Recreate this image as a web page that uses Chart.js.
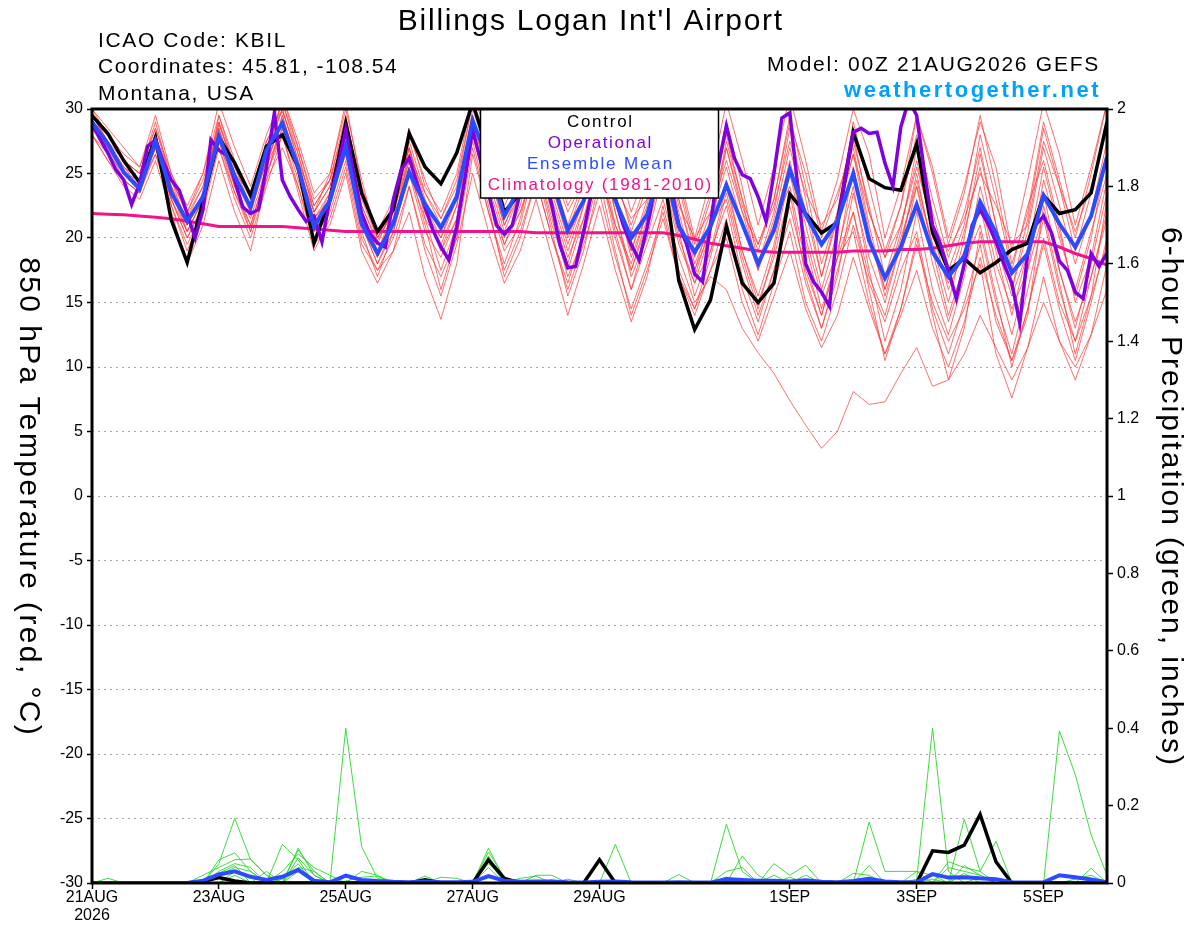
<!DOCTYPE html>
<html lang="en">
<head>
  <meta charset="UTF-8">
  <title>Billings Logan Int'l Airport - GEFS 850 hPa Temperature</title>
  <script src="https://cdn.jsdelivr.net/npm/chart.js"></script>
  <style>
    html, body { margin: 0; padding: 0; background: #fff; }
    #wrap { width: 1200px; height: 927px; }
  </style>
</head>
<body>
<div id="wrap"><canvas id="gefsChart" width="1200" height="927"></canvas></div>
<script>
  // x axis: forecast hour from 00Z 21AUG2026
  const xTickHours = [0, 48, 96, 144, 192, 264, 312, 360];
  const xTickLabels = [['21AUG', '2026'], '23AUG', '25AUG', '27AUG', '29AUG', '1SEP', '3SEP', '5SEP'];

  // 850 hPa temperature, 6-hourly (deg C)
  const tempControl = [
    29.5,28.1,26.0,24.3, 27.8,21.4,18.1,22.9, 27.8,25.8,23.3,27.1, 28.0,25.5,19.6,23.0,
    28.9,23.5,20.5,22.2, 28.1,25.5,24.2,26.6, 30.5,26.5,22.0,23.5, 27.0,25.0,23.5,24.5,
    27.5,25.0,23.5,24.0, 25.5,16.7,12.9,15.2, 20.9,16.5,15.0,16.5, 23.4,21.9,20.4,21.2,
    28.2,24.6,23.9,23.7, 27.3,20.4,17.5,18.4, 17.3,18.1,19.1,19.6, 23.3,21.9,22.2,23.5, 29.0
  ];
  const tempMean = [
    29.0,27.3,25.1,23.8, 27.5,23.5,21.3,23.2, 27.9,24.8,22.4,26.8, 28.9,25.5,20.9,22.9,
    27.1,21.1,18.8,21.1, 25.1,22.6,20.8,23.2, 29.1,26.0,21.7,24.0, 27.5,24.5,20.6,22.9,
    27.0,22.9,20.0,21.8, 26.0,20.9,18.9,20.9, 24.1,21.1,18.0,20.6, 25.3,21.8,19.5,21.3,
    25.0,19.8,16.9,19.3, 22.6,18.9,17.0,18.6, 22.8,20.4,17.3,18.8, 23.3,21.1,19.3,21.7, 26.3
  ];
  const tempClimo = [
    21.9,21.85,21.8,21.7, 21.6,21.5,21.3,21.1, 20.9,20.9,20.9,20.9, 20.9,20.8,20.7,20.6,
    20.5,20.5,20.5,20.5, 20.5,20.5,20.5,20.5, 20.5,20.5,20.5,20.5, 20.4,20.4,20.4,20.4,
    20.4,20.4,20.4,20.4, 20.4,20.2,19.9,19.6, 19.4,19.2,19.0,18.9, 18.9,18.9,18.9,18.9,
    19.0,19.0,19.0,19.1, 19.1,19.2,19.4,19.6, 19.7,19.7,19.7,19.7, 19.7,19.3,18.8,18.4, 17.9
  ];
  // operational run, 3-hourly
  const tempOper = [
    28.9,27.7,26.6,25.3,24.5,22.6,24.2,27.1, 27.6,25.9,24.5,23.7,21.9,20.0,22.2,27.6,
    26.8,26.4,24.5,22.4,21.9,22.2,25.5,29.7, 24.5,23.2,22.2,21.3,21.7,19.7,23.0,25.5,
    28.4,25.0,21.9,20.4,19.6,19.3,23.0,25.3, 26.2,24.2,22.4,20.6,19.3,18.3,20.9,24.5,
    28.4,26.0,23.5,21.0,20.3,21.0,23.5,25.5, 27.0,25.0,22.5,19.5,17.7,17.8,20.5,23.5,
    26.5,25.0,23.0,21.0,19.5,18.3,20.8,24.0, 26.5,24.0,21.0,19.5,17.2,16.6,21.0,25.6,
    28.7,26.2,24.9,24.6,23.2,21.3,25.0,29.3, 29.7,24.0,18.0,16.6,15.8,14.7,20.9,24.8,
    28.2,28.5,28.1,28.2,25.8,24.0,28.6,30.7, 29.5,25.0,21.0,19.5,17.5,15.3,18.0,21.0,
    22.2,21.1,19.7,18.0,16.5,13.4,18.8,21.0, 21.7,20.4,18.2,17.5,15.8,15.3,18.8,17.8, 18.8
  ];
  // ensemble members (red)
  const tempMembers = [
    [29.5,28.0,26.0,25.0, 28.5,24.5,21.8,24.0, 28.8,25.5,23.0,27.5, 29.8,26.5,22.0,24.0, 28.5,22.5,19.8,22.0, 26.5,23.5,21.5,24.0, 30.5,27.0,23.0,25.0, 28.5,25.5,22.0,24.5, 28.5,24.0,21.5,23.0, 27.5,22.5,20.0,22.0, 26.0,22.0,19.5,22.5, 27.5,23.5,21.0,23.0, 28.0,22.0,18.5,21.0, 25.5,21.0,19.0,21.5, 25.0,22.5,19.5,21.0, 27.5,24.0,20.5,24.0, 28.5],
    [28.0,26.0,24.0,23.0, 26.0,22.0,18.0,21.0, 26.0,22.0,19.0,24.5, 27.0,24.0,19.5,21.0, 25.0,19.0,16.5,19.0, 24.0,19.5,17.0,20.0, 27.0,22.0,17.5,20.5, 24.5,20.0,16.0,19.5, 23.5,18.5,14.5,18.0, 22.0,17.0,14.5,17.5, 21.5,16.0,12.5,16.5, 20.5,15.0,12.0,16.0, 21.0,16.5,13.5,17.5, 20.5,14.5,11.0,15.0, 19.5,13.5,10.5,14.5, 20.0,15.0,12.0,15.5, 19.5],
    [28.5,27.0,25.0,24.0, 27.0,23.0,20.0,22.5, 27.5,24.0,21.0,25.0, 28.5,25.0,20.5,22.5, 27.0,21.0,18.0,20.5, 25.0,20.5,18.5,21.5, 28.0,23.5,19.5,22.0, 26.0,21.0,17.5,21.5, 25.5,20.0,16.0,19.5, 23.0,18.5,15.0,17.0, 16.0,13.0,11.1,9.5, 7.4,5.5,3.7,5.0, 8.1,7.1,7.3,9.5, 11.5,8.5,9.0,11.0, 14.0,11.5,9.0,11.5, 15.0,12.0,10.0,12.5, 16.0],
    [30.0,28.5,27.0,25.5, 29.5,25.0,22.0,25.0, 30.5,27.0,24.0,28.0, 31.0,27.5,23.5,25.0, 30.5,24.0,20.5,23.0, 28.5,24.0,22.0,25.0, 31.0,28.0,24.0,26.5, 30.5,27.0,23.0,26.0, 30.5,26.5,22.0,25.5, 30.5,25.0,20.0,24.5, 30.5,26.0,21.0,25.5, 31.0,26.0,20.5,24.5, 30.0,26.5,20.0,24.0, 29.5,25.5,20.0,24.0, 29.0,25.5,19.0,24.5, 30.5,26.5,21.0,25.5, 30.5],
    [29.0,27.5,25.5,24.0, 27.5,23.5,21.0,23.5, 28.0,24.5,22.0,26.0, 29.0,25.0,21.0,23.5, 27.5,21.5,19.0,21.5, 25.5,21.0,16.0,20.0, 29.0,25.0,21.0,24.0, 27.5,23.0,19.0,22.5, 27.0,22.0,17.0,20.0, 25.0,19.5,16.5,19.0, 24.0,19.0,15.5,19.5, 25.5,20.0,15.5,19.0, 24.0,17.5,12.0,16.0, 22.0,16.0,12.5,17.0, 23.0,18.0,14.5,17.5, 24.5,20.0,16.0,20.5, 25.0],
    [28.5,26.5,24.5,23.5, 27.0,22.5,19.5,22.0, 27.0,23.0,20.0,24.0, 28.0,23.5,19.0,21.5, 25.5,19.5,17.5,19.0, 22.0,17.0,13.7,18.0, 26.5,22.0,18.0,21.5, 26.5,22.0,18.0,22.5, 26.0,20.5,16.0,20.5, 25.5,20.0,16.5,20.5, 27.0,22.0,18.0,22.0, 28.5,23.0,17.0,21.5, 26.5,20.5,15.5,19.5, 24.5,19.5,15.0,20.0, 26.5,21.0,16.0,20.5, 27.0,22.5,18.0,22.0, 27.5],
    [29.5,27.5,25.0,24.5, 28.0,24.0,21.0,23.0, 29.0,25.0,22.5,26.5, 30.0,26.0,22.5,24.5, 29.0,23.0,20.0,22.5, 27.0,23.0,20.5,23.0, 29.5,25.5,21.0,23.5, 27.0,22.5,18.5,21.5, 26.5,21.0,17.5,21.0, 26.0,21.0,17.5,20.5, 24.5,19.0,15.0,18.5, 23.5,17.0,13.0,17.5, 22.0,17.0,14.0,18.5, 24.0,19.5,16.5,20.5, 25.5,19.5,15.5,19.0, 23.5,17.5,13.5,17.0, 21.5],
    [28.0,26.5,25.0,24.0, 26.5,23.0,20.5,23.0, 27.5,23.5,20.5,25.5, 28.5,24.5,20.5,23.0, 26.5,20.5,17.0,20.5, 25.0,21.5,19.5,22.5, 30.0,26.5,22.5,25.0, 29.0,25.0,21.0,24.5, 29.5,25.0,20.5,24.0, 28.5,23.0,18.5,22.0, 27.0,22.5,19.0,23.0, 29.5,24.0,18.0,22.0, 26.5,22.0,18.5,22.5, 28.0,23.0,18.5,22.0, 27.0,21.0,16.0,21.5, 28.5,24.0,19.0,23.5, 29.0],
    [29.0,27.0,24.5,23.5, 27.5,23.0,20.0,22.5, 28.5,24.0,21.5,25.5, 29.5,25.5,21.5,23.0, 28.0,22.0,18.5,21.0, 26.0,22.0,19.0,22.5, 28.5,24.0,20.0,22.0, 25.5,20.5,15.5,19.0, 24.5,19.0,14.0,17.5, 21.5,17.0,14.0,17.5, 20.0,15.0,12.0,15.5, 19.0,14.5,11.5,14.0, 18.5,14.5,11.0,14.5, 19.5,15.0,12.0,14.5, 18.0,11.0,7.6,11.5, 17.0,12.0,9.0,12.5, 18.0],
    [30.0,28.0,26.0,25.0, 29.0,24.5,21.0,23.5, 28.0,25.0,23.5,27.0, 30.5,27.0,23.0,24.5, 28.0,22.0,19.0,21.5, 27.5,23.5,21.0,23.0, 29.0,24.5,20.5,23.5, 28.0,24.0,20.0,23.0, 28.0,23.0,19.0,22.5, 29.0,24.5,19.5,23.5, 29.0,24.0,18.0,21.0, 26.0,21.0,16.0,20.5, 27.5,22.5,17.0,21.0, 26.0,20.5,16.0,19.0, 22.5,17.0,12.5,17.5, 22.0,16.5,11.0,15.5, 23.0],
    [28.5,27.0,25.5,24.5, 27.5,24.0,21.5,24.0, 28.5,25.0,22.0,26.0, 29.0,25.5,21.5,23.0, 26.5,21.0,18.0,21.0, 26.5,22.5,20.0,23.5, 28.5,23.0,19.0,21.0, 26.0,21.5,17.0,20.0, 25.0,21.0,18.0,22.0, 27.0,22.0,17.5,21.5, 25.5,21.0,17.5,21.0, 24.0,18.0,14.0,18.5, 25.5,20.0,16.0,20.5, 27.0,22.0,17.5,21.0, 28.0,23.0,17.5,22.5, 26.0,21.0,15.0,18.5, 24.5],
    [29.0,28.0,26.5,25.5, 28.5,25.0,22.5,25.0, 29.5,26.0,23.0,27.0, 30.5,26.5,22.0,24.0, 28.0,22.5,19.5,22.5, 27.0,21.5,17.5,21.0, 27.5,22.5,17.0,20.0, 24.5,20.0,16.5,20.5, 27.5,23.0,19.0,23.0, 28.0,23.0,18.0,21.0, 23.0,18.0,14.0,17.5, 21.5,16.5,13.0,17.0, 23.5,18.5,15.0,19.5, 25.0,19.0,14.0,18.0, 21.0,15.5,10.0,14.5, 19.5,14.5,10.5,15.0, 20.0],
    [29.0,27.5,25.0,24.0, 27.0,23.5,20.5,23.0, 29.5,25.5,22.5,26.0, 31.0,27.0,22.5,24.5, 29.5,23.5,20.0,22.0, 27.0,22.5,19.0,21.5, 29.5,25.0,21.5,24.0, 28.5,24.5,20.5,24.0, 29.0,23.5,18.5,22.0, 26.0,20.5,15.5,19.0, 22.5,17.0,13.5,17.5, 22.5,17.5,14.0,18.5, 20.5,15.0,11.0,14.0, 17.5,13.0,10.0,13.5, 18.5,14.0,10.5,14.0, 22.5,17.5,13.0,18.0, 23.5],
    [28.0,26.0,24.5,23.5, 26.5,22.5,19.0,22.0, 28.0,24.0,20.5,24.5, 29.5,25.5,22.0,25.0, 30.0,24.5,20.0,22.5, 28.0,24.5,21.5,24.5, 30.5,27.5,23.5,26.0, 30.0,26.5,22.5,25.0, 28.5,24.5,21.0,24.5, 29.5,24.0,19.0,23.0, 28.0,23.0,17.5,21.5, 27.0,22.0,17.0,22.0, 29.0,24.0,19.0,22.5, 29.5,25.0,19.5,23.5, 29.5,24.0,18.0,22.0, 29.0,24.5,20.0,25.0, 30.5],
    [29.5,27.5,25.5,24.5, 28.0,24.0,20.5,23.0, 27.0,23.5,21.0,25.0, 28.0,24.0,20.0,22.0, 26.0,20.0,17.5,20.0, 24.0,19.0,15.5,19.5, 25.0,20.5,16.5,19.0, 23.0,18.5,14.0,18.0, 22.5,17.5,13.5,17.0, 22.5,17.5,14.5,18.5, 23.5,18.5,14.5,19.0, 25.0,19.5,14.5,18.5, 22.0,16.0,10.5,14.5, 20.0,14.0,9.0,13.0, 20.5,15.0,11.0,16.0, 21.5,16.0,12.0,17.0, 22.0],
    [28.5,27.5,26.0,25.0, 28.0,24.5,22.0,24.5, 29.0,25.5,23.5,27.5, 30.0,26.0,21.5,23.5, 27.5,22.0,19.0,22.0, 26.0,22.0,20.0,23.0, 28.0,23.5,19.5,22.5, 27.5,23.5,19.5,23.0, 27.5,22.0,17.5,21.5, 27.0,21.5,17.0,21.0, 27.5,23.0,19.5,23.0, 29.0,25.0,20.0,23.5, 27.0,21.0,16.0,20.0, 24.0,18.0,13.5,17.5, 24.0,19.0,14.0,19.0, 25.5,20.5,15.5,20.0, 26.5]
  ];

  // 6-hour precipitation (inches)
  const precipControl = [
    0,0,0,0,0,0,0,0.004, 0.014,0.005,0,0,0,0,0,0, 0,0,0,0,0,0.008,0,0, 0,0.06,0.012,0,0,0,0,0,
    0.06,0,0,0,0,0,0,0, 0,0,0,0,0,0,0,0, 0,0,0,0,0,0.083,0.079,0.098, 0.177,0.055,0,0,0,0,0,0, 0
  ];
  const precipMean = [
    0,0,0,0,0,0,0,0.006, 0.022,0.03,0.016,0.008,0.016,0.034,0.006,0.002,
    0.019,0.008,0.005,0.003,0.002,0.004,0.002,0.002, 0.003,0.018,0.006,0.003,0.004,0.004,0.002,0.001,
    0.003,0.004,0.002,0.001,0.001,0.002,0.001,0.001, 0.01,0.008,0.006,0.006,0.004,0.007,0.003,0.002,
    0.005,0.011,0.004,0.002,0.002,0.023,0.014,0.015, 0.012,0.01,0.002,0.001,0.002,0.02,0.015,0.009, 0.002
  ];
  const precipMembers = [
    [0,0,0,0,0,0,0,0, 0.05,0.167,0.06,0.02,0,0.09,0.02,0, 0,0,0,0,0,0,0,0, 0,0,0,0,0,0,0,0, 0,0,0,0,0,0,0,0, 0.152,0.03,0,0,0,0,0,0, 0,0,0,0,0.01,0.40,0.03,0, 0,0,0,0,0,0.393,0.28,0.124, 0.02],
    [0,0.012,0,0,0,0,0,0, 0.06,0.078,0.03,0,0.1,0.06,0,0, 0.40,0.094,0.012,0.005,0,0,0,0, 0,0,0,0,0,0,0,0, 0,0.10,0,0,0,0,0,0, 0,0,0,0,0,0,0,0, 0,0.157,0.03,0.03,0.03,0,0,0.165, 0.03,0,0,0,0,0,0,0, 0],
    [0,0,0,0,0,0,0,0.02, 0.04,0.06,0.062,0.02,0,0.085,0.03,0, 0,0,0,0,0,0,0,0, 0,0.09,0.01,0,0,0,0,0, 0,0,0,0,0,0.022,0,0, 0,0,0,0.05,0.02,0.046,0,0, 0,0,0,0,0,0,0.055,0.04, 0.03,0.108,0,0,0,0,0,0, 0],
    [0,0,0,0,0,0,0,0, 0.03,0.05,0.04,0,0.03,0.075,0.04,0.02, 0,0.03,0.02,0,0,0,0,0, 0,0.08,0.015,0,0.02,0.02,0,0, 0,0,0,0,0,0,0,0, 0,0.07,0.02,0,0,0,0,0, 0,0.045,0,0,0,0,0,0.045, 0.02,0,0,0,0,0,0,0.038, 0],
    [0,0,0,0,0,0,0,0, 0.02,0.04,0.03,0,0,0.065,0.02,0, 0,0,0,0,0,0.018,0,0, 0,0.07,0,0.012,0.018,0,0,0, 0,0,0,0,0,0,0,0, 0.03,0.04,0,0,0,0.02,0,0, 0,0,0,0,0,0,0.04,0.03, 0.02,0,0,0,0,0,0,0, 0],
    [0,0,0,0,0,0,0,0, 0,0.03,0.02,0,0.01,0.05,0,0, 0.005,0.015,0.018,0,0,0,0,0, 0,0.06,0,0,0,0.008,0,0, 0,0,0,0,0,0,0,0, 0,0,0,0.02,0,0,0,0, 0.025,0.02,0,0,0,0,0,0, 0,0,0,0,0,0,0,0, 0],
    [0,0,0,0,0,0,0,0, 0.025,0.045,0,0.03,0,0.04,0.03,0, 0,0,0,0,0,0,0,0, 0,0.05,0.008,0,0,0,0.01,0, 0,0,0,0,0,0,0,0, 0,0,0,0,0,0,0,0, 0,0,0,0,0.03,0.02,0,0.025, 0,0,0,0,0,0,0,0, 0],
    [0,0,0,0,0,0,0,0, 0,0.02,0,0,0,0.03,0,0, 0,0,0,0,0,0,0.015,0.012, 0,0.04,0,0,0,0,0,0, 0,0,0,0,0,0,0,0, 0.015,0,0,0,0.015,0,0,0, 0,0,0,0,0,0.01,0,0, 0.015,0,0,0,0,0,0.01,0.02, 0]
  ];

  const FONT = "'Liberation Sans', Arial, sans-serif";
  Chart.defaults.font.family = FONT;
  Chart.defaults.color = '#000';

  function series(values, stepHours) {
    return values.map((v, i) => ({ x: i * stepHours, y: v }));
  }

  const datasets = [];
  tempMembers.forEach(m => datasets.push({
    data: series(m, 6), yAxisID: 'y', borderColor: 'rgba(255,55,55,0.8)', borderWidth: 0.9, order: 20
  }));
  precipMembers.forEach(m => datasets.push({
    data: series(m, 6), yAxisID: 'y2', borderColor: 'rgb(40,215,40)', borderWidth: 0.9, order: 19
  }));
  datasets.push({ data: series(tempClimo, 6), yAxisID: 'y', borderColor: '#f0148c', borderWidth: 3, order: 5 });
  datasets.push({ data: series(tempControl, 6), yAxisID: 'y', borderColor: '#000', borderWidth: 3.5, order: 4 });
  datasets.push({ data: series(tempOper, 3), yAxisID: 'y', borderColor: '#8000e0', borderWidth: 3.5, order: 3 });
  datasets.push({ data: series(tempMean, 6), yAxisID: 'y', borderColor: '#2a4bff', borderWidth: 4, order: 2 });
  datasets.push({ data: series(precipControl, 6), yAxisID: 'y2', borderColor: '#000', borderWidth: 3.5, order: 4 });
  datasets.push({ data: series(precipMean, 6), yAxisID: 'y2', borderColor: '#2a4bff', borderWidth: 4, order: 2 });

  // stretch text to a given width (the original font is wide)
  function spacedText(ctx, text, x, y, width, align) {
    ctx.letterSpacing = '0px';
    const w = ctx.measureText(text).width;
    const sp = Math.max(0, (width - w) / text.length);
    ctx.letterSpacing = sp.toFixed(2) + 'px';
    ctx.textAlign = align;
    ctx.fillText(text, align === 'center' ? x + sp / 2 : x, y);
    ctx.letterSpacing = '0px';
  }

  const overlay = {
    id: 'overlay',
    afterDraw(chart) {
      const { ctx, chartArea: a } = chart;
      ctx.save();
      ctx.textBaseline = 'alphabetic';

      // legend box over the middle of the plot
      const cx = (a.left + a.right) / 2;
      ctx.fillStyle = '#fff';
      ctx.fillRect(cx - 119, a.top, 238, 89);
      ctx.lineWidth = 1.5;
      ctx.strokeStyle = '#000';
      ctx.strokeRect(cx - 119, a.top, 238, 89);
      ctx.font = '17px ' + FONT;
      const legend = [
        ['Control', '#000', 67], ['Operational', '#8000e0', 105],
        ['Ensemble Mean', '#2a4bff', 147], ['Climatology (1981-2010)', '#f0148c', 225]
      ];
      legend.forEach((l, k) => {
        ctx.fillStyle = l[1];
        spacedText(ctx, l[0], cx, a.top + 17.5 + k * 21.3, l[2], 'center');
      });

      // frame
      ctx.lineWidth = 3;
      ctx.strokeRect(a.left, a.top, a.right - a.left, a.bottom - a.top);

      // header
      ctx.fillStyle = '#000';
      ctx.font = '30px ' + FONT;
      spacedText(ctx, "Billings Logan Int'l Airport", 590, 29.5, 386, 'center');
      ctx.font = '21px ' + FONT;
      spacedText(ctx, 'ICAO Code: KBIL', 98, 47, 189, 'left');
      spacedText(ctx, 'Coordinates: 45.81, -108.54', 98, 73, 300, 'left');
      spacedText(ctx, 'Montana, USA', 98, 99.5, 157, 'left');
      spacedText(ctx, 'Model: 00Z 21AUG2026 GEFS', 1100, 71, 333, 'right');
      ctx.fillStyle = '#00a0ff';
      ctx.font = 'bold 22px ' + FONT;
      spacedText(ctx, 'weathertogether.net', 1101, 97, 257, 'right');

      // axis titles, both read top to bottom
      const midY = (a.top + a.bottom) / 2;
      ctx.fillStyle = '#000';
      ctx.font = '30px ' + FONT;
      ctx.textBaseline = 'middle';
      [[28, '850 hPa Temperature (red, \u00B0C)', 480], [1170, '6-hour Precipitation (green, inches)', 540]]
        .forEach(t => {
          ctx.save();
          ctx.translate(t[0], midY);
          ctx.rotate(Math.PI / 2);
          spacedText(ctx, t[1], 0, 0, t[2], 'center');
          ctx.restore();
        });
      ctx.restore();
    }
  };

  new Chart(document.getElementById('gefsChart'), {
    type: 'line',
    data: { datasets },
    options: {
      responsive: false,
      animation: false,
      events: [],
      layout: { padding: { top: 109, left: 0, right: 0, bottom: 0 } },
      elements: { point: { radius: 0 }, line: { tension: 0 } },
      plugins: { legend: { display: false }, tooltip: { enabled: false }, title: { display: false } },
      scales: {
        x: {
          type: 'linear', min: 0, max: 384,
          afterBuildTicks: s => { s.ticks = xTickHours.map(v => ({ value: v })); },
          afterFit: s => { s.height = 44; },
          ticks: {
            autoSkip: false, maxRotation: 0, minRotation: 0, padding: 0,
            font: { size: 16, lineHeight: 1.1 },
            callback: v => xTickLabels[xTickHours.indexOf(v)]
          },
          grid: { drawOnChartArea: false, tickLength: 6, tickColor: '#000', tickWidth: 1.5 },
          border: { display: false }
        },
        y: {
          position: 'left', min: -30, max: 30,
          afterFit: s => { s.width = 92; },
          ticks: { stepSize: 5, padding: 4, font: { size: 16 } },
          grid: { color: '#a8a8a8', lineWidth: 1, tickLength: 5, tickColor: '#000', tickWidth: 1.5 },
          border: { display: false, dash: [2, 4] }
        },
        y2: {
          position: 'right', min: 0, max: 2,
          afterFit: s => { s.width = 93; },
          ticks: { stepSize: 0.2, padding: 4, font: { size: 16 }, callback: v => String(Number(v.toFixed(1))) },
          grid: { drawOnChartArea: false, tickLength: 6, tickColor: '#000', tickWidth: 1.5 },
          border: { display: false }
        }
      }
    },
    plugins: [overlay]
  });
</script>
</body>
</html>
